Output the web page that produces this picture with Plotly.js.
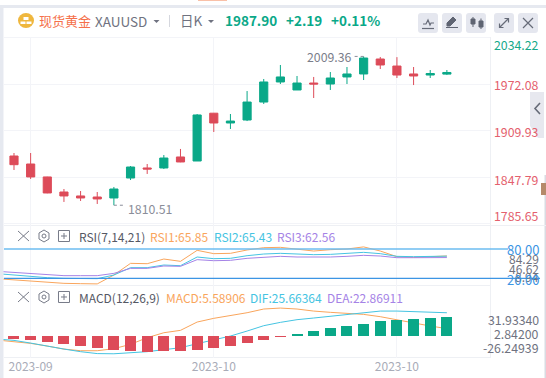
<!DOCTYPE html>
<html><head><meta charset="utf-8">
<script src="https://cdn.plot.ly/plotly-3.0.1.min.js"></script>
<style>html,body{margin:0;padding:0;background:#fff;overflow:hidden}#c{width:546px;height:378px}</style>
</head><body><div id="c"></div>
<script>
const idx=[0,1,2,3,4,5,6,7,8,9,10,11,12,13,14,15,16,17,18,19,20,21,22,23,24,25,26];
const open=[1876.3,1865.6,1848.3,1828.2,1822.9,1821.5,1820.2,1846.9,1860.3,1860.3,1875,1869.6,1933.5,1920.4,1924.4,1948.4,1975.2,1964.5,1973.8,1972.5,1981.9,1985.9,2005.9,1996.5,1985.9,1984.5,1985.71];
const high=[1880.3,1880.3,1848.6,1832.2,1829.5,1828.2,1834.9,1862.9,1865.6,1877.6,1885.7,1932.4,1933.8,1932.4,1963.1,1979.2,1997.9,1983.2,1981.9,1988.5,1995.2,2009.36,2008.6,2008.4,1995.2,1991.2,1991.2];
const low=[1857.6,1845.6,1826.5,1814.9,1816.2,1812.2,1810.51,1844.2,1852.3,1858.9,1868,1869.6,1908.4,1912.4,1923,1945.8,1972.5,1964.5,1953.8,1964.5,1972.5,1977.8,1992.5,1980.5,1971.1,1980.5,1984.5];
const close=[1864.7,1848.3,1826.9,1822.9,1820.2,1818.9,1832.2,1861.6,1858.9,1873.6,1868.3,1931.1,1920.4,1923,1948.4,1975.2,1981.9,1973.8,1972.5,1980.5,1985.9,2007.2,1997.9,1984.5,1983.2,1986.5,1987.9];
const lineIdx=[-1,0,1,2,3,4,5,6,7,8,9,10,11,12,13,14,15,16,17,18,19,20,21,22,23,24,25,26];
const rsi1=[19.5,16.9,14.1,11.4,10.1,9.4,8.94,27,50.8,50.1,59.6,54.9,77.3,70.5,71.2,78,82.7,83.4,80,75.9,78.6,80,84.29,75.9,64.4,63,64.4,65.85];
const rsi2=[29.8,27,23.6,21.6,20.2,20.2,19.6,27,42,42,47.4,46,63.7,60.3,61,66.4,69.8,71.2,69.8,68.5,69.1,70.5,73.2,70.5,65.1,64.4,65.1,65.43];
const rsi3=[34.5,32.5,29.8,27,25.7,25.7,25.7,30.4,40.6,40.6,45.4,44.7,58.3,56.2,56.9,61,63.7,65.1,63.7,63,63.7,65.1,67.1,65.7,62.3,62.3,62.3,62.56];
const macdLine=[-8.9,-11,-13.1,-16.5,-20.3,-22.4,-22.4,-19.8,-14.3,-5.9,0.4,3.4,13.9,18.6,21.9,25.7,30.4,31.6,30.4,27.8,26.2,24.5,23.6,20.7,16.5,12.2,8.9,5.59];
const difLine=[-7.6,-9.3,-12.7,-16.9,-20.3,-23.6,-26,-26.25,-25.3,-23.6,-21.1,-18.6,-13.5,-8.9,-3.8,2.5,9.3,13.5,16.9,19,21.1,22.8,25.7,27.8,27.8,27,26.2,25.66];
const hist=[-0.98,-1.18,-1.76,-2.35,-2.94,-3.53,-4.12,-4.41,-4.71,-4.41,-4.41,-4.12,-3.53,-2.94,-2.06,-1.18,-0.2,0.59,1.47,2.35,2.94,3.53,4.41,4.71,5,5.29,5.59];
const xTickVals=[1,12,23];
const xTickText=['2023-09','2023-10','2023-10'];
const priceGrid=[2034.22,1972.08,1909.93,1847.79,1785.65];

const W=546,H=378,GREEN='#0aa888',RED='#dd4b59',FONT='"Noto Sans CJK SC","Noto Sans",sans-serif';
const OR='#f9a55c',BL='#45c4e2',PU='#a583e6',GRID='#f3f4f8',GR='#6f7280';
const px=x=>x/W, py=y=>1-y/H;
const P=s=>s.replace(/(-?[\d.]+),(-?[\d.]+)/g,(m,a,b)=>px(+a).toFixed(5)+','+py(+b).toFixed(5));
const T=(x,y,text,color,size,anchor,extra)=>({xref:'paper',yref:'paper',x:px(x),y:py(y),text,showarrow:false,xanchor:anchor||'left',yanchor:'middle',font:{family:FONT,size:size||12,color:color},borderpad:0,...(extra||{})});
const path=(d,o)=>({type:'path',xref:'paper',yref:'paper',path:P(d),line:{color:(o&&o.c)||'#666b78',width:(o&&o.w)===undefined?1:o.w},fillcolor:(o&&o.f)||'rgba(0,0,0,0)',layer:(o&&o.layer)||'above'});
const btn=(x)=>path(`M${x+3},13 L${x+17},13 Q${x+20},13 ${x+20},16 L${x+20},30 Q${x+20},33 ${x+17},33 L${x+3},33 Q${x},33 ${x},30 L${x},16 Q${x},13 ${x+3},13 Z`,{f:'#e5e7ef',w:0,c:'#e5e7ef',layer:'below'});

const traces=[
 {type:'candlestick',x:idx,open,high,low,close,xaxis:'x',yaxis:'y',showlegend:false,hoverinfo:'skip',whiskerwidth:0,
  increasing:{line:{color:GREEN,width:1},fillcolor:GREEN},decreasing:{line:{color:RED,width:1},fillcolor:RED}},
 {type:'scatter',mode:'lines',x:lineIdx,y:rsi1,xaxis:'x',yaxis:'y2',line:{color:OR,width:1},showlegend:false,hoverinfo:'skip'},
 {type:'scatter',mode:'lines',x:lineIdx,y:rsi2,xaxis:'x',yaxis:'y2',line:{color:BL,width:1},showlegend:false,hoverinfo:'skip'},
 {type:'scatter',mode:'lines',x:lineIdx,y:rsi3,xaxis:'x',yaxis:'y2',line:{color:PU,width:1},showlegend:false,hoverinfo:'skip'},
 {type:'scatter',mode:'lines',x:lineIdx,y:macdLine,xaxis:'x',yaxis:'y3',line:{color:OR,width:1},showlegend:false,hoverinfo:'skip'},
 {type:'scatter',mode:'lines',x:lineIdx,y:difLine,xaxis:'x',yaxis:'y3',line:{color:BL,width:1},showlegend:false,hoverinfo:'skip'},
 {type:'bar',x:idx,y:hist,xaxis:'x',yaxis:'y4',width:0.66,marker:{color:hist.map(v=>v<0?RED:GREEN),line:{width:0}},showlegend:false,hoverinfo:'skip'}
];

const paneIcons=y=>[
 path(`M18,${y-5} L29,${y+5} M29,${y-5} L18,${y+5}`,{c:'#777b88'}),
 path(`M44,${y-6} L49,${y-3} L49,${y+3} L44,${y+6} L39,${y+3} L39,${y-3} Z`,{c:'#777b88'}),
 {type:'circle',xref:'paper',yref:'paper',x0:px(42),x1:px(46),y0:py(y+2),y1:py(y-2),line:{color:'#777b88',width:1}},
 path(`M58.5,${y-5.5} L69.5,${y-5.5} L69.5,${y+5.5} L58.5,${y+5.5} Z M64,${y-3} L64,${y+3} M61,${y} L67,${y}`,{c:'#777b88'})
];

const shapes=[
 path('M0,0 L546,0 L546,5 L0,5 Z',{f:'#ffffff',w:0,c:'#fff',layer:'below'}),
 path('M0,5 L546,5 L546,8 L0,8 Z',{f:'#e6e9f0',w:0,c:'#e6e9f0',layer:'below'}),
 path('M0,5 L3.5,5 L3.5,378 L0,378 Z',{f:'#e6e9f0',w:0,c:'#e6e9f0',layer:'below'}),
 path('M198,0 L227,0 L227,1 L198,1 Z',{f:'#f9c0a8',w:0,c:'#f9c0a8',layer:'below'}),
 path('M544.5,175 L546,175 L546,378 L544.5,378 Z',{f:'#d9dbe2',w:0,c:'#d9dbe2',layer:'below'}),
 path('M541,183 L546,183 L546,195 L541,195 Z',{f:'#b58a6a',w:0,c:'#b58a6a',layer:'below'}),
 path('M4,37.5 L490,37.5',{c:GRID,layer:'below'}),
 path('M4,225.5 L546,225.5',{c:'#eef0f4',layer:'below'}),
 path('M4,285.5 L490,285.5',{c:'#eef0f4',layer:'below'}),
 path('M4,357.5 L490,357.5',{c:'#eef0f4',layer:'below'}),
 path('M490.5,37 L490.5,358',{c:'#eef0f4',layer:'below'}),
 path('M536,92 L544,92 L544,138 L538,138 L530,126 L530,92 Z',{f:'#e7e8ef',w:0,c:'#e7e8ef',layer:'below'}),
 path('M540,103 L535,108.5 L540,114',{c:'#666b78',w:1.6}),
 {type:'circle',xref:'paper',yref:'paper',x0:px(18),x1:px(34),y0:py(28),y1:py(13),fillcolor:'#efb73e',line:{width:0},layer:'below'},
 path('M23.5,17 L28.5,17 L28.5,20 L23.5,20 Z M20.5,21.5 L25.5,21.5 L25.5,24 L20.5,24 Z M26.5,21.5 L31.5,21.5 L31.5,24 L26.5,24 Z',{f:'#fff',w:0,c:'#fff'}),
 path('M153.5,20 L159.5,20 L156.5,23 Z',{f:'#6f7280',w:0,c:'#6f7280'}),
 path('M208,20 L214,20 L211,23 Z',{f:'#6f7280',w:0,c:'#6f7280'}),
 path('M169.5,15 L169.5,27',{c:'#d5d7de'}),
 btn(418),btn(442),btn(466),btn(494),btn(518),
 path('M422,28.5 L434,28.5',{c:'#666b78',w:1.2}),
 path('M423,24 L426,24 L428,20 L430,25 L431,23 L434,23',{c:'#666b78',w:1.2}),
 path('M446,27.5 L458,27.5 M447,26 L447,23 L453,17 L456,20 L450,26 Z',{f:'#5f6472',c:'#5f6472',w:1}),
 path('M473,17 L473,27 M481,18.5 L481,29',{c:'#5f6472',w:1}),
 path('M471,19 L475,19 L475,24 L471,24 Z M479,21 L483,21 L483,27 L479,27 Z',{f:'#5f6472',c:'#5f6472',w:1}),
 path('M500,27 L508,19 M504.5,18.5 L508.5,18.5 L508.5,22.5 M499.5,23.5 L499.5,27.5 L503.5,27.5',{c:'#666b78',w:1.2}),
 path('M523,18 L533,28 M533,18 L523,28',{c:'#666b78',w:1.2}),
 {type:'line',xref:'paper',yref:'y2',x0:px(4),x1:px(508),y0:80,y1:80,line:{color:'#6cbcf0',width:1.4}},
 {type:'line',xref:'paper',yref:'y2',x0:px(4),x1:px(540),y0:20,y1:20,line:{color:'#3c95e4',width:1.2}},
 {type:'line',xref:'x',yref:'y',x0:6,x1:6.65,y0:1810.51,y1:1810.51,line:{color:'#8a8d99',width:1,dash:'dot'}},
 {type:'line',xref:'x',yref:'y',x0:21,x1:20.3,y0:2009.36,y1:2009.36,line:{color:'#8a8d99',width:1,dash:'dot'}},
 ...paneIcons(236),...paneIcons(297)
];

const gl='#e4606d',gy='#6f7280';
const annotations=[
 T(38,20,'现货黄金','#f5704a',13),
 T(94,21,'XAUUSD',GR,13.5),
 T(179,20,'日K',GR,13.5),
 T(224,20,'<b>1987.90</b>',GREEN,13.5),
 T(285,20,'<b>+2.19</b>',GREEN,13.5),
 T(330,20,'<b>+0.11%</b>',GREEN,13.5),
 T(540,45,String(priceGrid[0]),'#16a98a',12.3,'right'),
 T(540,85.5,priceGrid[1].toFixed(2),gl,12.3,'right'),
 T(540,132.5,priceGrid[2].toFixed(2),gl,12.3,'right'),
 T(540,179.5,priceGrid[3].toFixed(2),gl,12.3,'right'),
 T(540,215.5,priceGrid[4].toFixed(2),gl,12.3,'right'),
 T(540,258,'84.29',gy,12,'right'),
 T(540,268,'46.62',gy,12,'right'),
 T(540,276,'8.94',gy,12,'right'),
 T(540,249,'80.00','#3c95e4',13,'right'),
 T(540,279,'20.00','#3c95e4',13,'right'),
 T(540,319.5,'31.93340',gy,12.3,'right'),
 T(540,333.5,'2.84200',gy,12.3,'right'),
 T(540,348,'-26.24939',gy,12.3,'right'),
 T(78,236,'RSI(7,14,21)','#555864',12),
 T(149,236,'RSI1:65.85',OR,12),
 T(213,236,'RSI2:65.43',BL,12),
 T(276,236,'RSI3:62.56',PU,12),
 T(78,297,'MACD(12,26,9)','#555864',12),
 T(164.5,297,'MACD:5.58906',OR,12),
 T(249,297,'DIF:25.66364',BL,12),
 T(326,297,'DEA:22.86911',PU,12),
 T(127,208.5,'1810.51','#8a8d99',12.3),
 T(306,57.5,'2009.36','#7b7e8a',12.3)
];

const axisY={showticklabels:false,ticks:'',zeroline:false,showline:false,fixedrange:true};
const layout={width:W,height:H,margin:{l:0,r:0,t:0,b:0},paper_bgcolor:'#fff',plot_bgcolor:'rgba(0,0,0,0)',showlegend:false,bargap:0,boxgap:0.3,
 hovermode:false,dragmode:false,
 xaxis:{domain:[px(3.5),px(489.5)],range:[-0.63,28.56],anchor:'y3',tickmode:'array',tickvals:xTickVals,ticktext:xTickText,showgrid:true,gridcolor:GRID,gridwidth:1,zeroline:false,showline:false,ticks:'',tickfont:{family:FONT,size:12,color:'#a9acb8'},rangeslider:{visible:false},fixedrange:true},
 yaxis:{...axisY,domain:[py(225),py(37)],range:[1784.1,2035.3],tickmode:'array',tickvals:priceGrid,showgrid:true,gridcolor:GRID},
 yaxis2:{...axisY,domain:[py(285),py(225)],range:[6.7,128.9],showgrid:false},
 yaxis3:{...axisY,domain:[py(358),py(285)],range:[-31.6,60.8],showgrid:false},
 yaxis4:{...axisY,overlaying:'y3',range:[-6.47,15],showgrid:false},
 shapes,annotations};
Plotly.newPlot('c',traces,layout,{displayModeBar:false,staticPlot:true});
</script></body></html>
